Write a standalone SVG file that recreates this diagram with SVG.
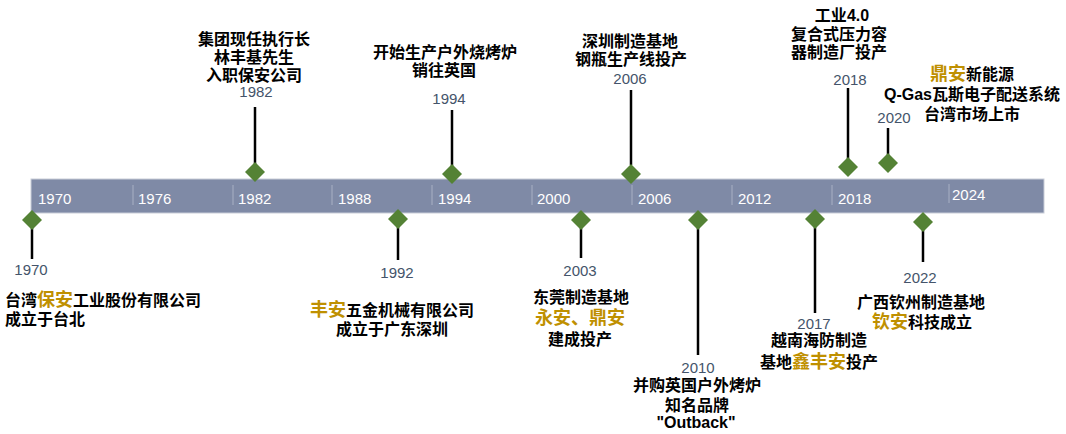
<svg xmlns="http://www.w3.org/2000/svg" width="1066" height="434" viewBox="0 0 1066 434">
<defs>
<style>
.bar{fill:#7F8AA6;stroke:#C9CDD8;stroke-width:1}
.div{stroke:#A9B0C4;stroke-width:1}
.tick{font-family:"Liberation Sans",Arial,sans-serif;font-size:15px;fill:#FFFFFF}
.yr{font-family:"Liberation Sans",Arial,sans-serif;font-size:15px;fill:#44546A;text-anchor:middle}
.t{font-family:"Liberation Sans","Noto Sans CJK SC",sans-serif;font-size:16px;font-weight:600;fill:#000000;text-anchor:middle}
.l{text-anchor:start}
.g{fill:#BF9000;font-size:18px}
.b{font-weight:bold}
.dm{fill:#548235}
.stem{stroke:#000000;stroke-width:2.5;fill:none}
</style>
<path id="d" class="dm" d="M0,-10 L10,0 L0,10 L-10,0 Z"/>
</defs>
<rect width="1066" height="434" fill="#FFFFFF"/>

<g id="axis">
<rect class="bar" x="31" y="179" width="1013" height="34"/>
<line class="div" x1="133" y1="185" x2="133" y2="205"/>
<line class="div" x1="233" y1="185" x2="233" y2="205"/>
<line class="div" x1="332" y1="185" x2="332" y2="205"/>
<line class="div" x1="432" y1="185" x2="432" y2="205"/>
<line class="div" x1="532" y1="185" x2="532" y2="205"/>
<line class="div" x1="632" y1="185" x2="632" y2="205"/>
<line class="div" x1="732" y1="185" x2="732" y2="205"/>
<line class="div" x1="832" y1="185" x2="832" y2="205"/>
<line class="div" x1="949" y1="184" x2="949" y2="203"/>
<text class="tick" x="38" y="204">1970</text>
<text class="tick" x="138" y="204">1976</text>
<text class="tick" x="238" y="204">1982</text>
<text class="tick" x="338" y="204">1988</text>
<text class="tick" x="438" y="204">1994</text>
<text class="tick" x="537" y="204">2000</text>
<text class="tick" x="638" y="204">2006</text>
<text class="tick" x="738" y="204">2012</text>
<text class="tick" x="838" y="204">2018</text>
<text class="tick" x="952" y="200">2024</text>
</g>

<g id="connectors">
<line class="stem" x1="32" y1="228" x2="32" y2="259"/>
<line class="stem" x1="255" y1="107" x2="255" y2="164"/>
<line class="stem" x1="398" y1="227" x2="398" y2="260"/>
<line class="stem" x1="452" y1="110" x2="452" y2="166"/>
<line class="stem" x1="581" y1="228" x2="581" y2="258"/>
<line class="stem" x1="631" y1="90" x2="631" y2="165"/>
<line class="stem" x1="698" y1="228" x2="698" y2="355"/>
<line class="stem" x1="815" y1="227" x2="815" y2="313"/>
<line class="stem" x1="848" y1="88" x2="848" y2="159"/>
<line class="stem" x1="888" y1="128" x2="888" y2="155"/>
<line class="stem" x1="923" y1="230" x2="923" y2="262"/>
</g>

<g id="e1970">
<use href="#d" x="32" y="220"/>
<text class="yr" x="31" y="275">1970</text>
<text class="t l" x="5" y="306">台湾<tspan class="g">保安</tspan>工业股份有限公司</text>
<text class="t l" x="5" y="325">成立于台北</text>
</g>

<g id="e1982">
<use href="#d" x="255" y="172"/>
<text class="t" x="254" y="45">集团现任执行长</text>
<text class="t" x="254" y="63">林丰基先生</text>
<text class="t" x="254" y="81">入职保安公司</text>
<text class="yr" x="256" y="97">1982</text>
</g>

<g id="e1992">
<use href="#d" x="398" y="219"/>
<text class="yr" x="397" y="278">1992</text>
<text class="t" x="392" y="316"><tspan class="g">丰安</tspan>五金机械有限公司</text>
<text class="t" x="392" y="335">成立于广东深圳</text>
</g>

<g id="e1994">
<use href="#d" x="452" y="174"/>
<text class="t" x="445" y="58">开始生产户外烧烤炉</text>
<text class="t" x="444" y="76">销往英国</text>
<text class="yr" x="449" y="104">1994</text>
</g>

<g id="e2003">
<use href="#d" x="581" y="220"/>
<text class="yr" x="580" y="276">2003</text>
<text class="t" x="581" y="303">东莞制造基地</text>
<text class="t" x="580" y="324"><tspan class="g">永安、鼎安</tspan></text>
<text class="t" x="580" y="345">建成投产</text>
</g>

<g id="e2006">
<use href="#d" x="631" y="174"/>
<text class="t" x="630" y="47">深圳制造基地</text>
<text class="t" x="631" y="65">钢瓶生产线投产</text>
<text class="yr" x="630" y="84">2006</text>
</g>

<g id="e2010">
<use href="#d" x="698" y="220"/>
<text class="yr" x="698" y="373">2010</text>
<text class="t" x="697" y="391">并购英国户外烤炉</text>
<text class="t" x="697" y="411">知名品牌</text>
<text class="t b" x="696" y="428">"Outback"</text>
</g>

<g id="e2017">
<use href="#d" x="815" y="219"/>
<text class="yr" x="814" y="329">2017</text>
<text class="t" x="819" y="346">越南海防制造</text>
<text class="t" x="819" y="368">基地<tspan class="g">鑫丰安</tspan>投产</text>
</g>

<g id="e2018">
<use href="#d" x="848" y="167"/>
<text class="t" x="842" y="21">工业<tspan class="b">4.0</tspan></text>
<text class="t" x="839" y="40">复合式压力容</text>
<text class="t" x="839" y="58">器制造厂投产</text>
<text class="yr" x="850" y="85">2018</text>
</g>

<g id="e2020">
<use href="#d" x="888" y="163"/>
<text class="yr" x="894" y="123">2020</text>
<text class="t" x="972" y="80"><tspan class="g">鼎安</tspan>新能源</text>
<text class="t" x="972" y="100"><tspan class="b">Q-Gas</tspan>瓦斯电子配送系统</text>
<text class="t" x="972" y="120">台湾市场上市</text>
</g>

<g id="e2022">
<use href="#d" x="923" y="222"/>
<text class="yr" x="920" y="283">2022</text>
<text class="t" x="921" y="308">广西钦州制造基地</text>
<text class="t" x="922" y="328"><tspan class="g">钦安</tspan>科技成立</text>
</g>
</svg>
